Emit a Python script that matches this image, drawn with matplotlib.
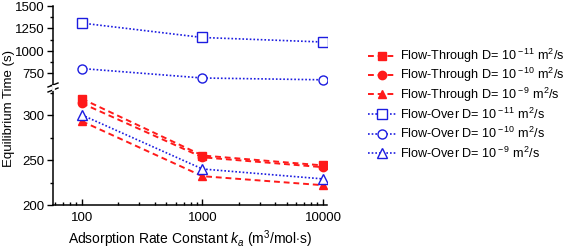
import numpy as np
import matplotlib
matplotlib.use('agg')
import matplotlib.pyplot as plt
from matplotlib.ticker import FixedLocator, NullFormatter, LogLocator

plt.rcParams['font.family'] = ['Liberation Sans', 'DejaVu Sans']
plt.rcParams['mathtext.fontset'] = 'custom'
plt.rcParams['mathtext.rm'] = 'Liberation Sans'
plt.rcParams['mathtext.it'] = 'Liberation Sans:italic'

# adsorption rate constant (x)
ka = [100, 1000, 10000]

# equilibrium times (s)
ft_d11 = [318, 255, 244]
ft_d10 = [313, 253, 242]
ft_d9 = [293, 232, 222]
fo_d11 = [1310, 1150, 1100]
fo_d10 = [805, 700, 680]
fo_d9 = [300, 240, 229]

labels = [
    r'Flow-Through D= 10$^{\rm -11}$ m$^{\rm 2}$/s',
    r'Flow-Through D= 10$^{\rm -10}$ m$^{\rm 2}$/s',
    r'Flow-Through D= 10$^{\rm -9}$ m$^{\rm 2}$/s',
    r'Flow-Over D= 10$^{\rm -11}$ m$^{\rm 2}$/s',
    r'Flow-Over D= 10$^{\rm -10}$ m$^{\rm 2}$/s',
    r'Flow-Over D= 10$^{\rm -9}$ m$^{\rm 2}$/s',
]

fig = plt.figure(figsize=(5.67, 2.49), dpi=100)
W, H = 567.0, 249.0
x0, x1 = 53 / W, 327 / W
ax_bot = fig.add_axes([x0, 1 - 205 / H, x1 - x0, (205 - 88) / H])
ax_top = fig.add_axes([x0, 1 - 87 / H, x1 - x0, (87 - 6) / H], sharex=ax_bot)

red = '#ff1a1a'
blue = '#1c1ce0'
red_kw = dict(color=red, ls=(0, (3, 2)), lw=1.4, ms=6)
blue_kw = dict(color=blue, ls=(0, (1, 1.2)), lw=1.2, ms=6.5, mfc='white', mew=1.0)

handles = []
for ax in (ax_bot, ax_top):
    h1, = ax.plot(ka, ft_d11, marker='s', **red_kw)
    h2, = ax.plot(ka, ft_d10, marker='o', **red_kw)
    h3, = ax.plot(ka, ft_d9, marker='^', **red_kw)
    h4, = ax.plot(ka, fo_d11, marker='s', **blue_kw)
    h5, = ax.plot(ka, fo_d10, marker='o', **blue_kw)
    h6, = ax.plot(ka, fo_d9, marker='^', **blue_kw)
    handles = [h1, h2, h3, h4, h5, h6]

ax_bot.set_xscale('log')
ax_bot.set_xlim(57.5, 10800)
ax_bot.set_ylim(200, 330)
ax_top.set_ylim(600, 1500)

for ax in (ax_bot, ax_top):
    ax.spines['top'].set_visible(False)
    ax.spines['right'].set_visible(False)
    ax.patch.set_alpha(0)
ax_top.spines['bottom'].set_visible(False)
ax_top.tick_params(axis='x', which='both', bottom=False, labelbottom=False)

ax_bot.yaxis.set_major_locator(FixedLocator([200, 250, 300]))
ax_bot.yaxis.set_minor_locator(FixedLocator([225, 275, 325]))
ax_top.yaxis.set_major_locator(FixedLocator([750, 1000, 1250, 1500]))
ax_top.yaxis.set_minor_locator(FixedLocator([625, 875, 1125, 1375]))

ax_bot.xaxis.set_major_locator(FixedLocator(ka))
ax_bot.set_xticklabels([str(v) for v in ka])
ax_bot.xaxis.set_minor_locator(LogLocator(base=10, subs=np.arange(2, 10)))
ax_bot.xaxis.set_minor_formatter(NullFormatter())

for ax in (ax_bot, ax_top):
    ax.tick_params(axis='y', which='major', direction='out', length=4, width=1, labelsize=9.5, pad=2)
    ax.tick_params(axis='y', which='minor', direction='out', length=2, width=1)
    for s in ax.spines.values():
        s.set_linewidth(1.1)
ax_bot.tick_params(axis='x', which='major', direction='in', length=4, width=1, labelsize=9.5, pad=5)
ax_bot.tick_params(axis='x', which='minor', direction='in', length=2, width=1)

# break marks on the left spine
for dy in (-2.5, 2.5):
    fig.add_artist(plt.Line2D([x0 - 5 / W, x0 + 5 / W],
                              [1 - (87.5 + dy + 2) / H, 1 - (87.5 + dy - 2) / H],
                              color='black', lw=1.0))
fig.add_artist(plt.Line2D([x0, x0], [1 - 89 / H, 1 - 86 / H], color='white', lw=2))

fig.text(9 / W, 1 - 108 / H, 'Equilibrium Time (s)', rotation=90,
         ha='center', va='center', fontsize=9.5)
ax_bot.set_xlabel(r'Adsorption Rate Constant $k_a$ (m$^{\rm 3}$/mol$\cdot$s)', fontsize=10, labelpad=3)

# one legend entry per row so rows are evenly spaced
for i, (h, lab) in enumerate(zip(handles, labels)):
    fig.legend([h], [lab], loc='center left',
               bbox_to_anchor=(368 / W, 1 - (56 + 19.4 * i) / H),
               frameon=False, fontsize=9.1, handlelength=2.2, handletextpad=0.3,
               borderaxespad=0, borderpad=0)

fig.savefig('out.png', dpi=100)
